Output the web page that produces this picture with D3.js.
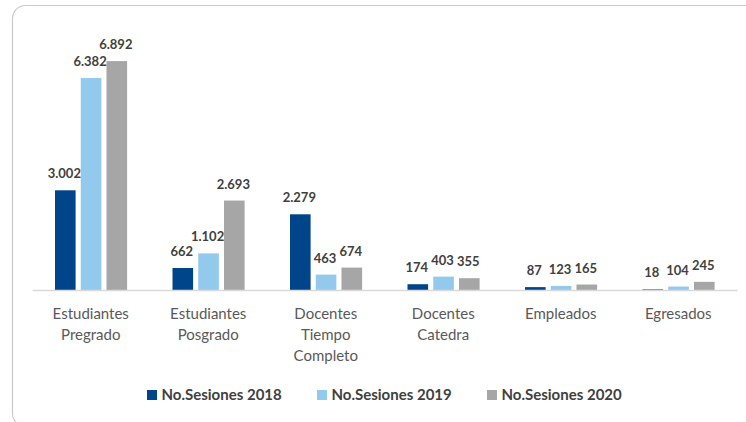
<!DOCTYPE html>
<html>
<head>
<meta charset="utf-8">
<script src="https://cdn.jsdelivr.net/npm/d3@7"></script>
<style>
  html, body { margin: 0; padding: 0; background: #ffffff; }
  svg { display: block; }
</style>
</head>
<body>
<svg id="chart" width="746" height="422"></svg>
<script>
// Categories (multi-line axis labels) and session counts per year
const categories = [
  ["Estudiantes", "Pregrado"],
  ["Estudiantes", "Posgrado"],
  ["Docentes", "Tiempo", "Completo"],
  ["Docentes", "Catedra"],
  ["Empleados"],
  ["Egresados"]
];
const seriesNames = ["No.Sesiones 2018", "No.Sesiones 2019", "No.Sesiones 2020"];
const sesiones2018 = [3002, 662, 2279, 174, 87, 18];
const sesiones2019 = [6382, 1102, 463, 403, 123, 104];
const sesiones2020 = [6892, 2693, 674, 355, 165, 245];
const seriesColors = ["#00458A", "#94C9EE", "#A6A6A6"];

const series = [sesiones2018, sesiones2019, sesiones2020];
const catKeys = categories.map(c => c.join(" "));

const svg = d3.select("#chart");

// Card outline with rounded corners
svg.append("rect")
  .attr("x", 12.5).attr("y", 5.5)
  .attr("width", 760).attr("height", 421)
  .attr("rx", 13).attr("ry", 13)
  .attr("fill", "none")
  .attr("stroke", "#C9C9C9")
  .attr("stroke-width", 1.2);

const x0 = d3.scaleBand().domain(catKeys).range([32, 737]).paddingInner(0).paddingOuter(0);
const x1 = d3.scaleBand().domain(d3.range(series.length))
  .range([23, 95.1])
  .paddingInner(0.2).paddingOuter(0);
const y = d3.scaleLinear().domain([0, 7000]).range([290, 57.5]);

const fmt = v => d3.format(",")(v).replace(/,/g, ".");

const groups = svg.append("g").selectAll("g")
  .data(catKeys)
  .join("g")
  .attr("transform", d => `translate(${x0(d)},0)`);

groups.selectAll("rect")
  .data((d, i) => series.map((s, k) => ({ k, v: s[i] })))
  .join("rect")
  .attr("x", d => x1(d.k))
  .attr("width", x1.bandwidth())
  .attr("y", d => y(d.v))
  .attr("height", d => y(0) - y(d.v))
  .attr("fill", d => seriesColors[d.k]);

groups.selectAll("text.val")
  .data((d, i) => series.map((s, k) => ({ k, v: s[i] })))
  .join("text")
  .attr("class", "val")
  .attr("x", d => x1(d.k) + x1.bandwidth() / 2 - 1)
  .attr("y", d => y(d.v) - 12)
  .attr("text-anchor", "middle")
  .attr("font-family", "Lato, 'Open Sans', sans-serif")
  .attr("font-weight", "bold")
  .attr("font-size", 13)
  .attr("fill", "#404040")
  .text(d => fmt(d.v));

// Baseline axis
const xAxis = d3.axisBottom(x0).tickSize(0).tickFormat("");
const axisG = svg.append("g").attr("transform", `translate(0,${y(0)})`).call(xAxis);
axisG.select(".domain").attr("stroke", "#D9D9D9").attr("stroke-width", 1.5);

// Category labels, one tspan per line
const lbl = svg.append("g").selectAll("text")
  .data(categories)
  .join("text")
  .attr("x", (d, i) => x0(catKeys[i]) + x0.bandwidth() / 2)
  .attr("y", 319)
  .attr("text-anchor", "middle")
  .attr("font-family", "Lato, 'Open Sans', sans-serif")
  .attr("font-size", 15)
  .attr("fill", "#595959");
lbl.selectAll("tspan")
  .data(d => d)
  .join("tspan")
  .attr("x", function () { return d3.select(this.parentNode).attr("x"); })
  .attr("dy", (d, i) => i === 0 ? 0 : 21)
  .text(d => d);

// Legend
const legendX = [147, 317, 487];
const legend = svg.append("g").selectAll("g")
  .data(seriesNames)
  .join("g")
  .attr("transform", (d, i) => `translate(${legendX[i]},390)`);
legend.append("rect")
  .attr("width", 10).attr("height", 10)
  .attr("fill", (d, i) => seriesColors[i]);
legend.append("text")
  .attr("x", 14.5).attr("y", 10)
  .attr("font-family", "Lato, 'Open Sans', sans-serif")
  .attr("font-weight", "bold")
  .attr("font-size", 15)
  .attr("fill", "#404040")
  .text(d => d);
</script>
</body>
</html>
